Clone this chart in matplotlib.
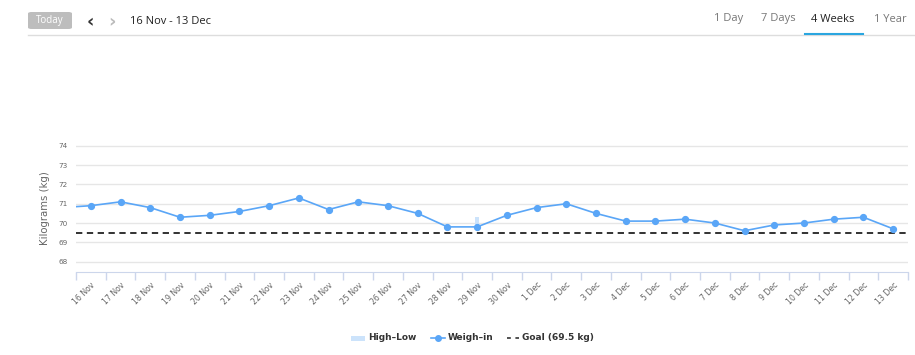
import matplotlib
matplotlib.use("Agg")
import matplotlib.pyplot as plt
from matplotlib.lines import Line2D
from matplotlib.patches import FancyBboxPatch, Rectangle

# data
days = ["16 Nov", "17 Nov", "18 Nov", "19 Nov", "20 Nov", "21 Nov", "22 Nov",
        "23 Nov", "24 Nov", "25 Nov", "26 Nov", "27 Nov", "28 Nov", "29 Nov",
        "30 Nov", "1 Dec", "2 Dec", "3 Dec", "4 Dec", "5 Dec", "6 Dec",
        "7 Dec", "8 Dec", "9 Dec", "10 Dec", "11 Dec", "12 Dec", "13 Dec"]
weigh_in = [70.9, 71.1, 70.8, 70.3, 70.4, 70.6, 70.9, 71.3, 70.7, 71.1, 70.9,
            70.5, 69.8, 69.8, 70.4, 70.8, 71.0, 70.5, 70.1, 70.1, 70.2, 70.0,
            69.6, 69.9, 70.0, 70.2, 70.3, 69.7]
prev_weigh_in = 70.8   # 15 Nov, just off the left edge
high_low_day = ["29 Nov"]
high_vals = [70.3]
low_vals = [69.8]
goal = 69.5

W, H = 915, 355
BLUE = "#5aa6f7"
GREY = "#666666"

def fx(px):
    return px / W

def fy(py):
    return 1 - py / H

fig = plt.figure(figsize=(W / 100, H / 100), dpi=100)

# plot area
ax = fig.add_axes([fx(76), fy(272), fx(908) - fx(76), (272 - 144) / H])
xs = list(range(len(days)))

for d, hi, lo in zip(high_low_day, high_vals, low_vals):
    i = days.index(d)
    ax.bar(i, hi - lo, bottom=lo, width=0.14, color="#cce3fb", zorder=2)

ax.plot([-1] + xs, [prev_weigh_in] + weigh_in, color=BLUE, lw=1.2, zorder=3)
ax.plot(xs, weigh_in, "o", color=BLUE, ms=4.2, zorder=4)
ax.axhline(goal, color="#222222", lw=1.3, ls=(0, (3.5, 2.5)), zorder=3)

ax.set_xlim(-0.5, len(days) - 0.5)
ax.set_ylim(67.46, 74.1)
ax.set_yticks(range(68, 75))
ax.set_yticklabels([str(v) for v in range(68, 75)], fontsize=5.2, color=GREY)
ax.grid(axis="y", color="#e6e6e6", lw=1)
ax.set_axisbelow(True)

ax.set_xticks(xs)
ax.set_xticklabels(days, rotation=45, ha="right", va="top",
                   rotation_mode="anchor", fontsize=5.6, color=GREY)
ax.tick_params(axis="x", which="major", length=0, pad=6)
ax.set_xticks([i - 0.5 for i in range(len(days) + 1)], minor=True)
ax.tick_params(axis="x", which="minor", length=6, color="#ccd6eb", width=1)
ax.tick_params(axis="y", length=0, pad=6)

for s in ["top", "right", "left"]:
    ax.spines[s].set_visible(False)
ax.spines["bottom"].set_color("#ccd6eb")
ax.set_ylabel("Kilograms (kg)", fontsize=7.3, color=GREY, labelpad=6)

# header bar
fig.add_artist(FancyBboxPatch((fx(28), fy(29)), fx(72) - fx(28), (29 - 12) / H,
                              boxstyle="round,pad=0,rounding_size=0.004",
                              facecolor="#bdbdbd", edgecolor="none",
                              transform=fig.transFigure))
fig.text(fx(50), fy(20.5), "Today", color="white", fontsize=7,
         ha="center", va="center", family="Open Sans")
fig.text(fx(90), fy(22), "\u2039", color="#333333", fontsize=13,
         ha="center", va="center", weight="bold")
fig.text(fx(112), fy(22), "\u203a", color="#bbbbbb", fontsize=13,
         ha="center", va="center", weight="bold")
fig.text(fx(130), fy(21), "16 Nov - 13 Dec", color="#222222", fontsize=8,
         ha="left", va="center", family="Open Sans")

tabs = ["1 Day", "7 Days", "4 Weeks", "1 Year"]
tab_x = [729, 778, 833, 890]
for t, x in zip(tabs, tab_x):
    fig.text(fx(x), fy(19), t, color="#222222" if t == "4 Weeks" else "#777777",
             fontsize=8, ha="center", va="center", family="Open Sans")
fig.add_artist(Line2D([fx(28), fx(915)], [fy(34.5), fy(34.5)],
                      color="#dddddd", lw=1, transform=fig.transFigure))
fig.add_artist(Line2D([fx(805), fx(863)], [fy(34), fy(34)],
                      color="#2aa6e0", lw=1.5, transform=fig.transFigure))

# legend
ly = fy(338)
fig.add_artist(Rectangle((fx(351), ly - 2.5 / H), 14 / W, 5 / H,
                         facecolor="#cce3fb", edgecolor="none",
                         transform=fig.transFigure))
fig.text(fx(368), ly, "High\u2013Low", fontsize=6.5, weight="bold",
         color="#333333", va="center")
fig.add_artist(Line2D([fx(431), fx(445)], [ly, ly], color=BLUE, lw=1.2,
                      transform=fig.transFigure))
fig.add_artist(Line2D([fx(438)], [ly], color=BLUE, marker="o", ms=4,
                      transform=fig.transFigure))
fig.text(fx(448), ly, "Weigh\u2013in", fontsize=6.5, weight="bold",
         color="#333333", va="center")
fig.add_artist(Line2D([fx(507), fx(519)], [ly, ly], color="#222222", lw=1.1,
                      ls=(0, (2.5, 3)), transform=fig.transFigure))
fig.text(fx(522), ly, "Goal (69.5 kg)", fontsize=6.5, weight="bold",
         color="#333333", va="center")

fig.savefig("out.png", dpi=100)
